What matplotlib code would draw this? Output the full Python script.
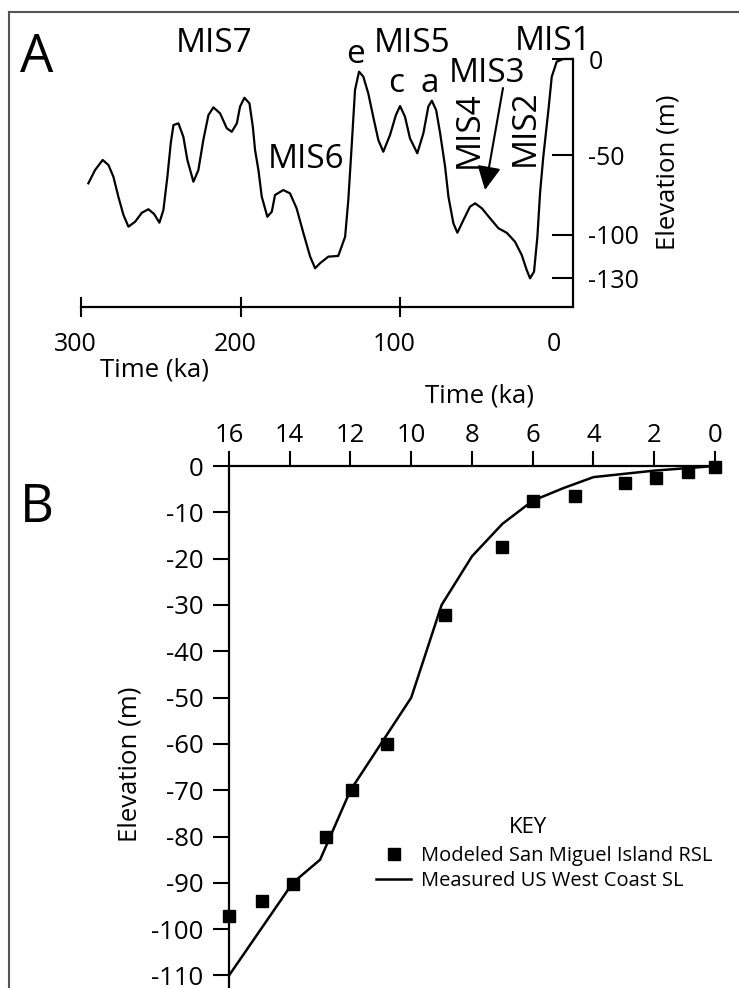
import numpy as np
import matplotlib
matplotlib.use("Agg")
import matplotlib.pyplot as plt
from matplotlib.lines import Line2D
from matplotlib.patches import FancyArrowPatch
from matplotlib.transforms import ScaledTranslation

plt.rcParams['font.family'] = ['Open Sans', 'DejaVu Sans']
plt.rcParams['axes.unicode_minus'] = False

# ---------------- Panel A data: sea level curve over 300 ka ----------------
a_time_ka = [295.4, 291.2, 286.4, 282.8, 279.7, 276.6, 273.4, 270.3, 266.1, 261.9,
             257.8, 254.2, 250.9, 248.4, 245.9, 243.8, 242.1, 239.0, 235.9, 233.4,
             229.6, 226.5, 223.4, 220.2, 217.1, 212.9, 208.7, 205.6, 202.4, 200.4,
             197.7, 194.5, 192.4, 191.0, 188.9, 186.8, 183.3, 180.5, 178.5, 173.3,
             169.1, 165.0, 160.7, 156.5, 153.4, 150.3, 145.1, 138.9, 134.6, 132.6,
             130.4, 128.4, 125.9, 123.2, 120.1, 117.0, 113.8, 110.7, 106.5, 102.8,
             100.2, 97.1, 94.0, 89.4, 85.6, 82.5, 80.3, 77.6, 75.1, 72.0,
             69.9, 66.8, 64.3, 60.5, 56.4, 53.2, 49.0, 43.8, 38.6, 33.4,
             28.2, 24.0, 20.9, 18.8, 16.3, 14.2, 12.5, 10.5, 7.3, 5.2,
             2.1, -2.1, -8.0]
a_elev_m = [-67.7, -59.4, -53.1, -56.3, -63.6, -76.1, -87.5, -94.8, -91.7, -86.1,
            -83.9, -86.9, -92.3, -84.4, -63.6, -43.9, -34.4, -33.5, -40.5, -53.1,
            -66.7, -59.4, -42.2, -29.2, -25.2, -28.3, -36.1, -37.9, -33.5, -24.8,
            -20.2, -23.1, -35.3, -47.4, -59.4, -76.1, -88.6, -85.4, -75.0, -71.9,
            -74.0, -83.3, -98.9, -115.1, -123.2, -119.7, -115.1, -114.6, -101.2, -78.1,
            -43.9, -16.1, -6.6, -9.2, -17.9, -30.1, -42.2, -48.3, -39.6, -29.2,
            -24.5, -30.1, -41.3, -49.1, -38.7, -24.8, -21.7, -26.6, -38.7, -57.3,
            -76.1, -92.7, -98.6, -90.6, -82.3, -80.2, -83.3, -89.6, -95.8, -98.6,
            -104.7, -114.0, -124.4, -130.2, -125.6, -101.2, -73.3, -51.1, -26.6, -9.2,
            -1.4, 0.0, 0.0]
a_xticks = [300, 200, 100, 0]
a_xticklabels = ['300', '200', '100', '0']
a_yticks = [0, -50, -100, -130]
a_yticklabels = ['0', '-50', '-100', '-130']
a_mis_labels = ['MIS7', 'MIS6', 'MIS5', 'MIS3', 'MIS1']
a_substage_labels = ['e', 'c', 'a']
a_vertical_labels = ['MIS4', 'MIS2']

# ---------------- Panel B data: last 16 ka ----------------
b_model_ka = [16, 14.9, 13.9, 12.8, 11.95, 10.8, 8.9, 7.0, 6.0, 4.6, 2.95, 1.95, 0.9, 0]
b_model_m = [-97.2, -94, -90.3, -80, -70, -60, -32.2, -17.5, -7.5, -6.4, -3.7, -2.5, -1.2, -0.3]
b_line_ka = [16, 13.9, 13.0, 12.0, 10.9, 10.0, 9.0, 8.0, 7.0, 6.0, 5.0, 4.0, 2.0, 0]
b_line_m = [-110, -90, -85, -70, -59, -50, -30, -19.5, -12.5, -7.5, -4.8, -2.4, -1.0, 0]
b_xticks = [16, 14, 12, 10, 8, 6, 4, 2, 0]
b_xticklabels = ['16', '14', '12', '10', '8', '6', '4', '2', '0']
b_yticks = [0, -10, -20, -30, -40, -50, -60, -70, -80, -90, -100, -110]
b_yticklabels = ['0', '-10', '-20', '-30', '-40', '-50', '-60', '-70', '-80', '-90', '-100', '-110']
b_model_label = 'Modeled San Miguel Island RSL'
b_line_label = 'Measured US West Coast SL'

W, H = 739, 988
fig = plt.figure(figsize=(W / 100, H / 100), dpi=100)


def fx(x):
    return x / W


def fy(y):
    return 1 - y / H


# outer frame (top and left edges)
frame_col = '#555555'
fig.add_artist(Line2D([fx(9), fx(739)], [fy(12), fy(12)], color=frame_col, lw=1.5))
fig.add_artist(Line2D([fx(9), fx(9)], [fy(12), fy(988)], color=frame_col, lw=1.5))

# ---------------- Panel A ----------------
# hand-drawn, non-uniform elevation axis
_elev_pts = [-1000, -150, -130, -100, -50, 0, 1000]
_pos_pts = [-1232.5, 0, 29, 72, 152, 248, 2168]


def _fwd(y):
    return np.interp(y, _elev_pts, _pos_pts)


def _inv(p):
    return np.interp(p, _pos_pts, _elev_pts)


ax1 = fig.add_axes([fx(81), fy(307), (573 - 81) / W, (307 - 59) / H])
ax1.set_yscale('function', functions=(_fwd, _inv))
ax1.plot(a_time_ka, a_elev_m, color='black', lw=1.6, clip_on=False,
         solid_joinstyle='round')
ax1.set_xlim(300, -8.1)
ax1.set_ylim(-150, 0)
for s in ['top', 'left']:
    ax1.spines[s].set_visible(False)
for s in ['bottom', 'right']:
    ax1.spines[s].set_linewidth(1.6)
ax1.set_xticks(a_xticks)
ax1.set_xticklabels(a_xticklabels)
ax1.tick_params(axis='x', direction='inout', length=14, width=1.5, pad=11, labelsize=18)
ax1.xaxis.get_major_ticks()[3].tick1line.set_visible(False)
for lbl in ax1.get_xticklabels():
    lbl.set_transform(lbl.get_transform() + ScaledTranslation(-6 / 100, 0, fig.dpi_scale_trans))
ax1.yaxis.tick_right()
ax1.set_yticks(a_yticks)
ax1.set_yticklabels(a_yticklabels)
ax1.yaxis.set_minor_locator(matplotlib.ticker.NullLocator())
ax1.tick_params(axis='y', direction='in', length=15, width=1.5, pad=11, labelsize=18,
                right=True, left=False)

fig.text(fx(20), fy(72), 'A', fontsize=38, ha='left', va='baseline')
mis_pos = [(214, 52), (306, 168), (412, 52), (487, 82), (553, 50)]
for t, (x, y) in zip(a_mis_labels, mis_pos):
    fig.text(fx(x), fy(y), t, fontsize=24, ha='center', va='baseline')
sub_pos = [(356, 63), (396, 92), (430, 92)]
for t, (x, y) in zip(a_substage_labels, sub_pos):
    fig.text(fx(x), fy(y), t, fontsize=24, ha='center', va='baseline')
vert_pos = [(469, 130), (525, 128)]
for t, (x, y) in zip(a_vertical_labels, vert_pos):
    fig.text(fx(x), fy(y), t, fontsize=24, ha='center', va='center', rotation=90)
fig.add_artist(FancyArrowPatch(posA=(fx(503), fy(88)), posB=(fx(485), fy(190)),
                               transform=fig.transFigure,
                               arrowstyle='-|>,head_length=0.8,head_width=0.4',
                               mutation_scale=18, lw=1.5, color='black',
                               shrinkA=0, shrinkB=0))
fig.text(fx(155), fy(370), 'Time (ka)', fontsize=18.5, ha='center', va='center')
fig.text(fx(668), fy(172), 'Elevation (m)', fontsize=18.5, ha='center', va='center', rotation=90)

# ---------------- Panel B ----------------
ax2 = fig.add_axes([fx(229), 0, (718 - 229) / W, (988 - 466) / H])
h_line, = ax2.plot(b_line_ka, b_line_m, color='black', lw=1.8, clip_on=False)
h_model, = ax2.plot(b_model_ka, b_model_m, 's', color='black', ms=8.5, clip_on=False)
ax2.set_xlim(16, -0.1)
ax2.set_ylim(-112.7, 0)
for s in ['right', 'bottom']:
    ax2.spines[s].set_visible(False)
for s in ['left', 'top']:
    ax2.spines[s].set_linewidth(1.6)
ax2.xaxis.tick_top()
ax2.set_xticks(b_xticks)
ax2.set_xticklabels(b_xticklabels)
ax2.tick_params(axis='x', direction='out', length=11, width=1.5, pad=2, labelsize=18.5,
                top=True, bottom=False)
ax2.set_yticks(b_yticks)
ax2.set_yticklabels(b_yticklabels)
ax2.tick_params(axis='y', direction='out', length=11.5, width=1.5, pad=7, labelsize=18.5)

fig.text(fx(37), fy(522), 'B', fontsize=38, ha='center', va='baseline')
fig.text(fx(479), fy(396), 'Time (ka)', fontsize=18.5, ha='center', va='center')
fig.text(fx(130), fy(764), 'Elevation (m)', fontsize=18.5, ha='center', va='center', rotation=90)
fig.text(fx(528), fy(833), 'KEY', fontsize=16, ha='center', va='baseline')
fig.legend(handles=[h_model, h_line], labels=[b_model_label, b_line_label],
           loc='upper left', bbox_to_anchor=(fx(376), fy(846)), frameon=False,
           fontsize=14.5, handlelength=1.75, handletextpad=0.5, borderpad=0,
           borderaxespad=0, labelspacing=0.25, numpoints=1)

fig.savefig('out.png', dpi=100)
